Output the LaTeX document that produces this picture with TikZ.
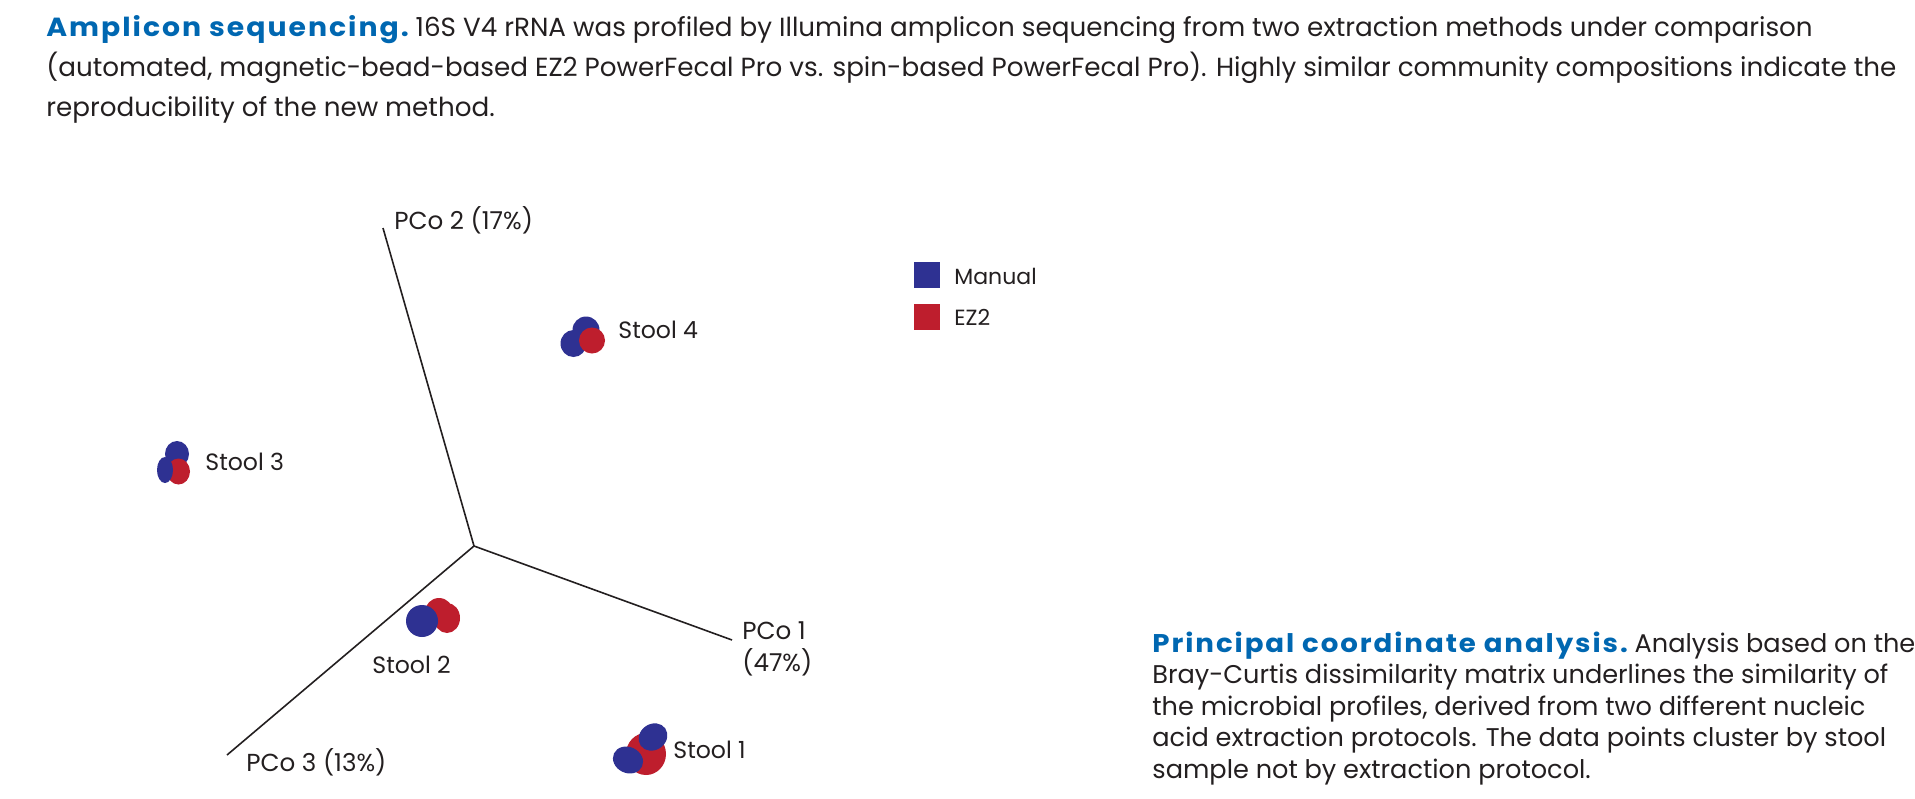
\documentclass[tikz,border=0pt]{standalone}
\usepackage{fontspec}
\setmainfont{Poppins}
\usepackage{xcolor}
\usepackage{graphicx}
\definecolor{qblue}{RGB}{0,103,177}
\definecolor{manualblue}{RGB}{46,49,146}
\definecolor{ezred}{RGB}{190,30,45}
\definecolor{inkgray}{RGB}{35,31,32}
\newcommand{\headword}[1]{\scalebox{1.08}[1]{\textcolor{qblue}{\bfseries\addfontfeature{LetterSpace=7}#1}}}

\begin{document}
\begin{tikzpicture}[x=0.5pt,y=-0.5pt,
            every node/.style = {inner sep=0pt, text=inkgray},
            titletext/.style = {anchor=base west, font=\fontsize{13.1}{15}\selectfont},
            bodytext/.style = {anchor=base west, font=\fontsize{12.8}{15}\selectfont},
            stoollabel/.style = {anchor=west, font=\fontsize{11.8}{13}\selectfont},
            axislabel/.style = {anchor=west, font=\fontsize{12.3}{13}\selectfont},
            axisline/.style = {draw=inkgray, line width=0.8pt},
            manualdot/.style = {fill=manualblue},
            ezdot/.style = {fill=ezred}
        ]
        \useasboundingbox (0,0) rectangle (1915,798);

        % caption on top
        \node[titletext] (title1) at (46,36) {\headword{Amplicon sequencing.} 16S V4 rRNA was profiled by Illumina amplicon sequencing from two extraction methods under comparison};
        \node[titletext] (title2) at (46,76) {(automated, magnetic-bead-based EZ2 PowerFecal Pro vs. spin-based PowerFecal Pro). Highly similar community compositions indicate the};
        \node[titletext] (title3) at (46,116) {reproducibility of the new method.};

        % axes
        \coordinate (origin) at (474,546);
        \coordinate (pco1end) at (732,640);
        \coordinate (pco2end) at (383,228);
        \coordinate (pco3end) at (227,755);
        \draw[axisline] (origin) -- (pco1end);
        \draw[axisline] (origin) -- (pco2end);
        \draw[axisline] (origin) -- (pco3end);
        \node[axislabel] (pco2) at (394,220) {PCo 2 (17\%)};
        \node[axislabel] (pco3) at (246,762) {PCo 3 (13\%)};
        \node[axislabel, anchor=north west, align=left, font=\fontsize{12.3}{16}\selectfont] (pco1) at (742,621) {PCo 1\\(47\%)};

        % Stool 4
        \fill[manualdot] (586,330) ellipse [x radius=13.5, y radius=13.5];
        \fill[manualdot] (573.5,343.5) ellipse [x radius=13, y radius=13.5];
        \fill[ezdot] (592,340.5) ellipse [x radius=13, y radius=13];
        \node[stoollabel] (stool4) at (618,330) {Stool 4};

        % Stool 3
        \fill[manualdot] (177,454) ellipse [x radius=12, y radius=13];
        \fill[ezdot] (178.5,471.5) ellipse [x radius=11.5, y radius=13];
        \fill[manualdot] (165,470) ellipse [x radius=8, y radius=13];
        \node[stoollabel] (stool3) at (205,462) {Stool 3};

        % Stool 2
        \fill[ezdot] (439,612) ellipse [x radius=14, y radius=14];
        \fill[ezdot] (447,618) ellipse [x radius=13, y radius=15];
        \fill[manualdot] (422,621) ellipse [x radius=16, y radius=16];
        \node[stoollabel] (stool2) at (372,665) {Stool 2};

        % Stool 1
        \fill[ezdot] (646,754) ellipse [x radius=20, y radius=21];
        \fill[manualdot, rotate around={35:(653,737)}] (653,737) ellipse [x radius=15, y radius=13];
        \fill[manualdot, rotate around={-25:(628,760)}] (628,760) ellipse [x radius=15.5, y radius=13];
        \node[stoollabel] (stool1) at (673,750) {Stool 1};

        % legend
        \fill[manualdot] (914,262) rectangle (940,288);
        \fill[ezdot] (914,304) rectangle (940,330);
        \node[stoollabel, font=\fontsize{11}{13}\selectfont] (manual) at (954,276) {Manual};
        \node[stoollabel, font=\fontsize{11}{13}\selectfont] (ez2) at (954,317) {EZ2};

        % caption on the right
        \node[bodytext] (para1) at (1152,652) {\headword{Principal coordinate analysis.} Analysis based on the};
        \node[bodytext] (para2) at (1152,683.5) {Bray-Curtis dissimilarity matrix underlines the similarity of};
        \node[bodytext] (para3) at (1152,715) {the microbial profiles, derived from two different nucleic};
        \node[bodytext] (para4) at (1152,746.5) {acid extraction protocols. The data points cluster by stool};
        \node[bodytext] (para5) at (1152,778) {sample not by extraction protocol.};
    \end{tikzpicture}
\end{document}
